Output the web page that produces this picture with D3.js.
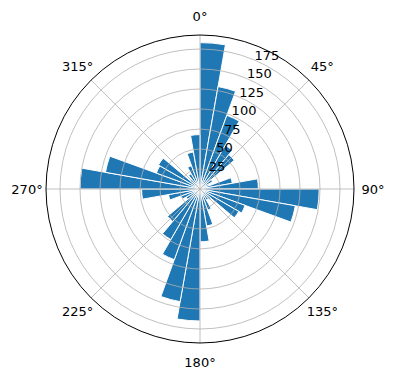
<!DOCTYPE html>
<html>
<head>
<meta charset="utf-8">
<script src="https://cdn.jsdelivr.net/npm/d3@7"></script>
<style>
	body { margin: 0; background: #fff; }
	text { font-family: 'DejaVu Sans', sans-serif; }
</style>
</head>
<body>
<div class="chart"></div>
<script>
// bins of 10 degrees, clockwise from north
var binStarts = d3.range(0, 360, 10);
var counts = [
	183, 130, 98, 63, 56, 18, 12, 41, 73,
	149, 121, 60, 56, 18, 16, 28, 47, 66,
	165, 143, 94, 73, 53, 20, 25, 40, 73,
	150, 120, 58, 60, 16, 22, 31, 47, 68
];
var rTicks = [25, 50, 75, 100, 125, 150, 175];
var thetaTicks = [0, 45, 90, 135, 180, 225, 270, 315];

var width = 396, height = 380;
var cx = 200, cy = 189;
var radius = 154;

var svg = d3.select('.chart')
	.append('svg')
		.attr('width', width)
		.attr('height', height)
	.append('g')
		.attr('transform', `translate(${cx}, ${cy})`);

var rScale = d3.scaleLinear()
	.domain([0, 192.5])
	.range([0, radius]);

var aScale = d3.scaleLinear()
	.domain([0, 360])
	.range([0, 2 * Math.PI]);

var arc = d3.arc()
	.innerRadius(0)
	.outerRadius(d => rScale(d.count))
	.startAngle(d => aScale(d.start))
	.endAngle(d => aScale(d.start + 10));

var data = binStarts.map((s, i) => ({ start: s, count: counts[i] }));

svg.selectAll('.bar')
	.data(data)
	.enter()
	.append('path')
	.attr('class', 'bar')
	.attr('d', arc)
	.attr('fill', '#1f77b4')
	.attr('stroke', '#fff')
	.attr('stroke-width', 1);

// grid on top of bars
svg.selectAll('.ring')
	.data(rTicks)
	.enter()
	.append('circle')
	.attr('r', d => rScale(d))
	.attr('fill', 'none')
	.attr('stroke', '#b0b0b0')
	.attr('stroke-width', 0.8);

svg.selectAll('.spoke')
	.data(thetaTicks)
	.enter()
	.append('line')
	.attr('x2', d => radius * Math.sin(aScale(d)))
	.attr('y2', d => -radius * Math.cos(aScale(d)))
	.attr('stroke', '#b0b0b0')
	.attr('stroke-width', 0.8);

svg.append('circle')
	.attr('r', radius)
	.attr('fill', 'none')
	.attr('stroke', '#000')
	.attr('stroke-width', 1);

svg.selectAll('.tlabel')
	.data(thetaTicks)
	.enter()
	.append('text')
	.attr('x', d => (radius + 19) * Math.sin(aScale(d)))
	.attr('y', d => -(radius + 19) * Math.cos(aScale(d)))
	.attr('text-anchor', 'middle')
	.attr('dominant-baseline', 'central')
	.style('font-size', '13px')
	.text(d => `${d}°`);

var labAngle = aScale(22.5);
svg.selectAll('.rlabel')
	.data(rTicks)
	.enter()
	.append('text')
	.attr('x', d => rScale(d) * Math.sin(labAngle) + 1)
	.attr('y', d => -rScale(d) * Math.cos(labAngle))
	.style('font-size', '13px')
	.text(d => d);
</script>
</body>
</html>
